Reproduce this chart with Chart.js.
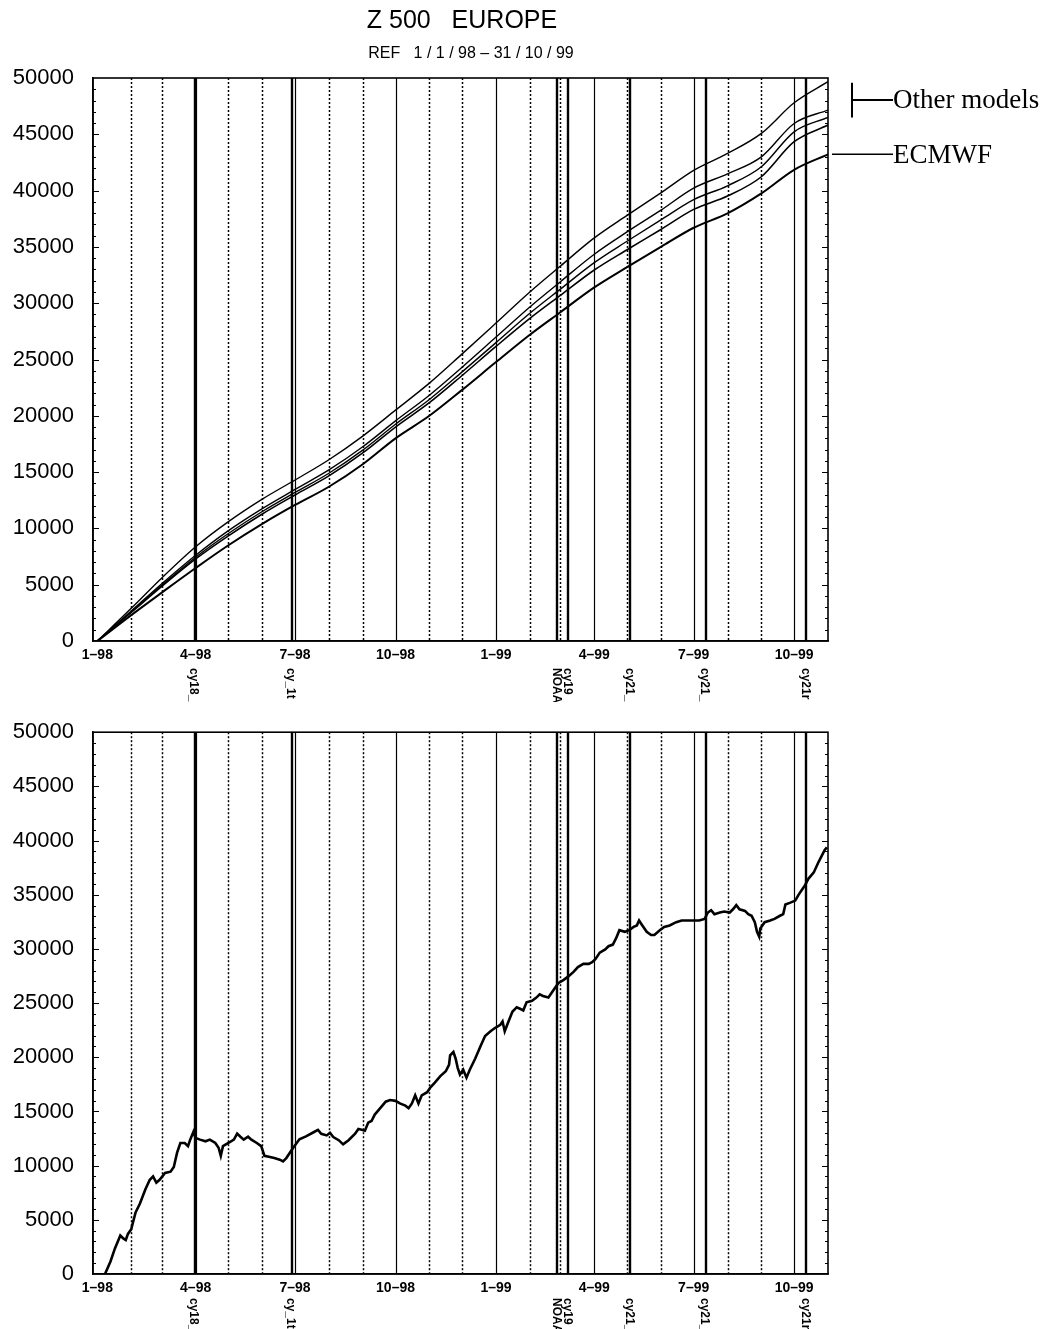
<!DOCTYPE html>
<html>
<head>
<meta charset="utf-8">
<title>Z 500 EUROPE</title>
<script src="https://cdn.jsdelivr.net/npm/chart.js@4.4.0/dist/chart.umd.min.js"></script>
<style>
  html, body { margin: 0; padding: 0; background: #fff; }
  #wrap { position: relative; width: 1051px; height: 1329px; overflow: hidden; background: #fff; }
  .panel { position: absolute; left: 0; }
</style>
</head>
<body>
<div id="wrap">
  <div class="panel" style="top:0;width:1051px;height:702px"><canvas id="topPanel" width="1051" height="702"></canvas></div>
  <div class="panel" style="top:700px;width:1051px;height:629px"><canvas id="bottomPanel" width="1051" height="629"></canvas></div>
</div>
<script>
// Day numbers count from 1 Jan 1998 (day 0) to 31 Oct 1999.
const quarterDays   = [0, 90, 181, 273, 365, 455, 546, 638];
const quarterLabels = ['1–98', '4–98', '7–98', '10–98', '1–99', '4–99', '7–99', '10–99'];
const monthLines    = [31, 59, 120, 151, 212, 243, 304, 334, 396, 424, 485, 516, 577, 608];
const eventDays     = [89, 178, 421, 431, 488, 557, 649];
const eventLabels   = ['cy18_', 'cy_1t', 'NOAA', 'cy19', 'cy21_', 'cy21_', 'cy21r'];

// Cumulative scores, sampled at the start of each month
const monthDays = [0, 31, 59, 90, 120, 151, 181, 212, 243, 273, 304, 334, 365, 396, 424, 455, 485, 516, 546, 577, 608, 638, 669];
const ecmwf  = [0, 2300, 4300, 6480, 8500, 10400, 12080, 13700, 15700, 18000, 20000, 22300, 24770, 27200, 29200, 31400, 33200, 35000, 36700, 37980, 39750, 41850, 43220];
const modelA = [0, 2900, 5600, 8370, 10600, 12600, 14300, 16100, 18200, 20500, 22900, 25500, 28240, 31000, 33300, 35800, 37800, 39800, 41800, 43300, 45080, 47800, 49670];
const modelB = [0, 2660, 5080, 7610, 9800, 11760, 13460, 15190, 17250, 19550, 21830, 24320, 26990, 29670, 31910, 34350, 36330, 38260, 40220, 41490, 43000, 45960, 47150];
const modelC = [0, 2600, 4950, 7440, 9550, 11500, 13190, 14900, 16950, 19250, 21450, 23900, 26500, 29100, 31250, 33600, 35500, 37400, 39200, 40430, 42120, 45220, 46500];
const modelD = [0, 2540, 4850, 7290, 9340, 11280, 12970, 14660, 16700, 19000, 21160, 23580, 26160, 28650, 30700, 32950, 34750, 36550, 38330, 39520, 41230, 44340, 45820];

// Cumulative difference curve
const diffDays = [7, 12, 16, 21, 24, 26, 28, 31, 35, 39, 44, 48, 51, 54, 57, 62, 67, 70, 73, 76, 80, 83, 85, 88, 90, 94, 99, 103, 108, 111, 113, 115, 120, 125, 128, 131, 134, 138, 141, 146, 150, 153, 158, 162, 167, 170, 173, 177, 180, 185, 191, 198, 202, 205, 210, 213, 216, 221, 225, 230, 236, 239, 242, 245, 248, 251, 254, 259, 264, 268, 273, 277, 282, 285, 288, 291, 294, 297, 302, 305, 309, 314, 319, 322, 323, 326, 328, 330, 332, 335, 338, 341, 346, 351, 355, 360, 364, 369, 371, 373, 376, 380, 384, 387, 390, 393, 398, 402, 405, 408, 413, 418, 422, 427, 431, 436, 440, 445, 450, 453, 456, 460, 465, 468, 472, 475, 478, 483, 487, 491, 494, 496, 499, 503, 507, 510, 515, 519, 524, 530, 535, 539, 545, 551, 556, 559, 562, 565, 570, 574, 579, 582, 585, 588, 593, 596, 599, 602, 604, 606, 607, 611, 616, 620, 625, 628, 630, 634, 639, 642, 645, 648, 651, 656, 660, 663, 666, 668];
const diffValues = [0, 1150, 2340, 3550, 3260, 3140, 3700, 4140, 5680, 6500, 7820, 8700, 9000, 8430, 8700, 9320, 9440, 9880, 11200, 12090, 12090, 11800, 12400, 13130, 12550, 12400, 12250, 12400, 12090, 11650, 10900, 11800, 12090, 12400, 12960, 12670, 12400, 12670, 12400, 12090, 11800, 10900, 10800, 10700, 10550, 10400, 10700, 11300, 11740, 12430, 12700, 13080, 13300, 12940, 12790, 13030, 12640, 12350, 11960, 12350, 12940, 13380, 13320, 13230, 13970, 14120, 14710, 15300, 15900, 16050, 15980, 15740, 15540, 15300, 15740, 16490, 15740, 16490, 16780, 17230, 17670, 18260, 18710, 19300, 20180, 20490, 19890, 19000, 18410, 18850, 18120, 18850, 19890, 21070, 21960, 22400, 22700, 23000, 23300, 22400, 23180, 24200, 24620, 24480, 24330, 25070, 25220, 25510, 25810, 25660, 25510, 26250, 26840, 27140, 27440, 27880, 28330, 28620, 28620, 28770, 29060, 29660, 29950, 30250, 30400, 30990, 31730, 31580, 31730, 32030, 32170, 32620, 32170, 31580, 31290, 31290, 31730, 32030, 32170, 32470, 32620, 32620, 32620, 32620, 32770, 33360, 33570, 33210, 33360, 33450, 33360, 33660, 34040, 33660, 33510, 33210, 33060, 32470, 31580, 31140, 31880, 32470, 32620, 32770, 33060, 33210, 34100, 34250, 34460, 34990, 35430, 35880, 36470, 37060, 37950, 38540, 39130, 39370];

const SANS = '"Liberation Sans", Arial, Helvetica, sans-serif';
const SERIF = '"Liberation Serif", "Times New Roman", serif';

const pts = (xs, ys) => xs.map((d, i) => ({ x: d, y: ys[i] }));

// Month grid, model-change markers, frame, inner ticks and marker labels
function panelDecor(labelTop) {
  return {
    id: 'panelDecor',
    beforeDatasetsDraw(chart) {
      const { ctx, chartArea: a, scales: { x } } = chart;
      ctx.save();
      ctx.strokeStyle = '#000';
      ctx.lineWidth = 1.5;
      ctx.setLineDash([2, 2]);
      monthLines.forEach(d => {
        const px = Math.round(x.getPixelForValue(d)) + 0.5;
        ctx.beginPath(); ctx.moveTo(px, a.top); ctx.lineTo(px, a.bottom); ctx.stroke();
      });
      ctx.setLineDash([]);
      ctx.lineWidth = 1.2;
      quarterDays.slice(1).forEach(d => {
        const px = Math.round(x.getPixelForValue(d)) + 0.5;
        ctx.beginPath(); ctx.moveTo(px, a.top); ctx.lineTo(px, a.bottom); ctx.stroke();
      });
      ctx.lineWidth = 2.4;
      eventDays.forEach(d => {
        const px = Math.round(x.getPixelForValue(d));
        ctx.beginPath(); ctx.moveTo(px, a.top); ctx.lineTo(px, a.bottom); ctx.stroke();
      });
      ctx.restore();
    },
    afterDraw(chart) {
      const { ctx, chartArea: a, scales: { x, y } } = chart;
      ctx.save();
      ctx.strokeStyle = '#000';
      ctx.lineWidth = 1.6;
      ctx.strokeRect(a.left, a.top, a.right - a.left, a.bottom - a.top);
      ctx.lineWidth = 1;
      for (let v = 1000; v < 50000; v += 1000) {
        const py = Math.round(y.getPixelForValue(v)) + 0.5;
        const len = v % 5000 === 0 ? 6 : 3;
        ctx.beginPath();
        ctx.moveTo(a.left, py); ctx.lineTo(a.left + len, py);
        ctx.moveTo(a.right - len, py); ctx.lineTo(a.right, py);
        ctx.stroke();
      }
      ctx.fillStyle = '#000';
      ctx.font = 'bold 12px ' + SANS;
      ctx.textAlign = 'left';
      ctx.textBaseline = 'middle';
      eventDays.forEach((d, i) => {
        const px = x.getPixelForValue(d);
        ctx.save();
        ctx.translate(px - 1, labelTop);
        ctx.rotate(Math.PI / 2);
        ctx.fillText(eventLabels[i], 0, 0);
        ctx.restore();
      });
      ctx.restore();
    }
  };
}

// Title block and right-hand series annotations
const topAnnotations = {
  id: 'topAnnotations',
  afterDraw(chart) {
    const { ctx, chartArea: a, scales: { y } } = chart;
    ctx.save();
    ctx.fillStyle = '#000';
    ctx.textAlign = 'center';
    ctx.textBaseline = 'middle';
    ctx.font = '25px ' + SANS;
    ctx.fillText('Z 500   EUROPE', 462, 21);
    ctx.font = '16px ' + SANS;
    ctx.fillText('REF   1 / 1 / 98 – 31 / 10 / 99', 471, 54);

    const last = monthDays.length - 1;
    const yTop = y.getPixelForValue(modelA[last]) + 1;
    const yBot = y.getPixelForValue(modelC[last]);
    const yMid = (yTop + yBot) / 2;
    const yEc = y.getPixelForValue(ecmwf[last]);
    const bx = a.right + 24;
    ctx.strokeStyle = '#000';
    ctx.lineWidth = 2;
    ctx.beginPath();
    ctx.moveTo(bx, yTop); ctx.lineTo(bx, yBot);
    ctx.moveTo(bx, yMid); ctx.lineTo(893, yMid);
    ctx.stroke();
    ctx.lineWidth = 1.5;
    ctx.beginPath();
    ctx.moveTo(a.right + 4, yEc); ctx.lineTo(893, yEc);
    ctx.stroke();
    ctx.textAlign = 'left';
    ctx.font = '27px ' + SERIF;
    ctx.fillText('Other models', 893, yMid + 1);
    ctx.fillText('ECMWF', 893, yEc + 2);
    ctx.restore();
  }
};

function axes(xHeight) {
  return {
    x: {
      type: 'linear', min: -4, max: 669,
      afterBuildTicks: s => { s.ticks = quarterDays.map(v => ({ value: v })); },
      afterFit: s => { s.height = xHeight; },
      ticks: {
        autoSkip: false, maxRotation: 0, padding: 6, color: '#000',
        font: { family: SANS, size: 14, weight: 'bold' },
        callback: v => quarterLabels[quarterDays.indexOf(v)]
      },
      grid: { display: false, drawTicks: false },
      border: { color: '#000', width: 1.6 }
    },
    y: {
      min: 0, max: 50000,
      afterFit: s => { s.width = 93; },
      ticks: {
        stepSize: 5000, padding: 19, color: '#000',
        font: { family: SANS, size: 22 },
        callback: v => String(v)
      },
      grid: { display: false, drawTicks: false },
      border: { color: '#000', width: 1.6 }
    }
  };
}

const lineStyle = (w) => ({ borderColor: '#000', borderWidth: w, pointRadius: 0, cubicInterpolationMode: 'monotone', fill: false });

new Chart(document.getElementById('topPanel'), {
  type: 'line',
  data: {
    datasets: [
      Object.assign({ label: 'Model A', data: pts(monthDays, modelA) }, lineStyle(1.4)),
      Object.assign({ label: 'Model B', data: pts(monthDays, modelB) }, lineStyle(1.4)),
      Object.assign({ label: 'Model C', data: pts(monthDays, modelC) }, lineStyle(1.4)),
      Object.assign({ label: 'Model D', data: pts(monthDays, modelD) }, lineStyle(1.6)),
      Object.assign({ label: 'ECMWF', data: pts(monthDays, ecmwf) }, lineStyle(2))
    ]
  },
  options: {
    responsive: false, animation: false,
    layout: { padding: { top: 78, right: 223, left: 0, bottom: 0 } },
    plugins: { legend: { display: false }, tooltip: { enabled: false }, title: { display: false } },
    scales: axes(61)
  },
  plugins: [panelDecor(668), topAnnotations]
});

new Chart(document.getElementById('bottomPanel'), {
  type: 'line',
  data: {
    datasets: [
      Object.assign({ label: 'Difference', data: pts(diffDays, diffValues) }, lineStyle(2.6), { cubicInterpolationMode: 'default', tension: 0 })
    ]
  },
  options: {
    responsive: false, animation: false,
    layout: { padding: { top: 11, right: 223, left: 0, bottom: 0 } },
    plugins: { legend: { display: false }, tooltip: { enabled: false } },
    scales: axes(55)
  },
  plugins: [panelDecor(598)]
});
</script>
</body>
</html>
